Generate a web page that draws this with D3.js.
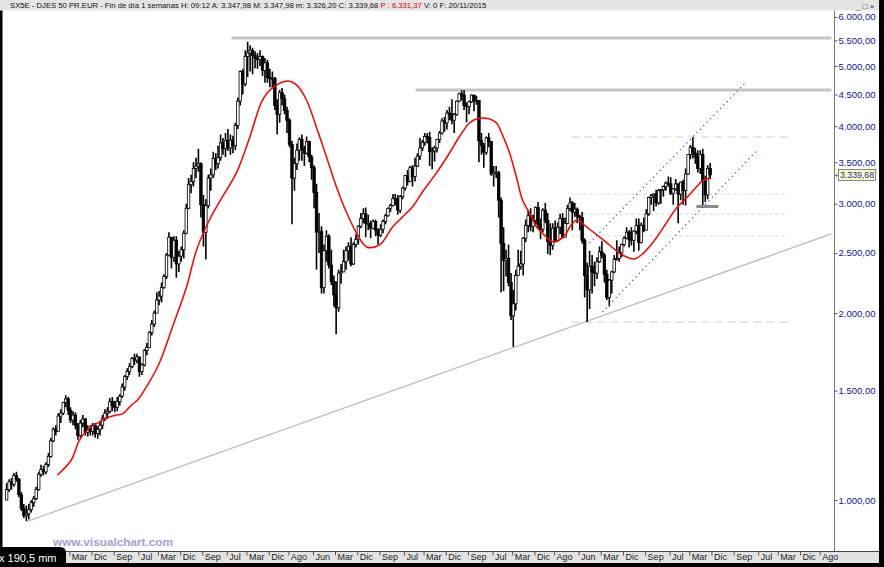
<!DOCTYPE html>
<html>
<head>
<meta charset="utf-8">
<script src="https://cdn.jsdelivr.net/npm/d3@7"></script>
<style>
body { margin: 0; background: #000; }
svg { display: block; }
text { font-family: Arial, "Liberation Sans", sans-serif; }
</style>
</head>
<body>
<svg id="chart" width="884" height="567"></svg>
<script>
/* SX5E weekly chart, drawn with monthly bars */

var firstOpen = 1000;
var lastClose = 3339.68;

// monthly highs, Jan 1992 .. Nov 2015
var high = [
	1065,1080,1085,1105,1110,1085,1030,985,980,985,1000,1015,
	1050,1110,1140,1135,1150,1190,1260,1310,1320,1380,1400,1440,
	1475,1465,1410,1390,1385,1330,1345,1370,1355,1320,1320,1330,
	1330,1315,1340,1370,1400,1410,1460,1465,1445,1465,1480,1540,
	1590,1630,1660,1700,1720,1720,1700,1660,1750,1790,1870,1950,
	2020,2160,2170,2240,2310,2500,2700,2650,2660,2660,2520,2560,
	2720,3000,3300,3340,3500,3560,3680,3500,3100,3050,3340,3420,
	3640,3620,3720,3880,3830,3900,3960,3880,3860,4050,4450,4920,
	4950,5300,5470,5400,5350,5280,5250,5300,5200,5150,5120,4950,
	4900,4800,4420,4580,4610,4500,4300,4120,3790,3560,3750,3840,
	3880,3720,3850,3790,3600,3460,3230,2900,2760,2580,2720,2680,
	2530,2300,2250,2350,2400,2530,2560,2600,2650,2600,2680,2770,
	2900,2950,2960,2880,2820,2830,2830,2740,2780,2830,2890,2960,
	3000,3110,3110,3100,3100,3200,3340,3400,3450,3460,3560,3620,
	3830,3800,3900,3900,3920,3700,3720,3820,3930,4120,4140,4250,
	4300,4420,4200,4400,4530,4570,4570,4370,4400,4500,4490,4480,
	4350,3900,3760,3850,3900,3780,3450,3450,3390,3070,2750,2530,
	2580,2320,2180,2350,2530,2520,2650,2830,2930,2950,2880,2970,
	3020,2840,2950,3010,2900,2790,2790,2820,2800,2890,2900,2850,
	2990,3070,3030,3010,2960,2880,2910,2640,2410,2520,2480,2420,
	2460,2560,2610,2500,2350,2270,2340,2480,2620,2560,2590,2660,
	2750,2720,2750,2720,2840,2840,2800,2850,2940,3080,3110,3120,
	3160,3170,3170,3210,3260,3320,3310,3180,3290,3230,3260,3280,
	3420,3610,3730,3840,3690,3660,3660,3680,3330,3460,3490
];

var low = [
	1010,1030,1040,1050,1070,1010,960,935,925,930,955,975,
	1000,1035,1090,1095,1100,1130,1170,1240,1270,1290,1330,1370,
	1410,1370,1330,1320,1300,1250,1260,1310,1270,1265,1270,1270,
	1260,1255,1270,1300,1340,1350,1380,1390,1385,1390,1420,1460,
	1500,1560,1590,1630,1650,1660,1580,1590,1640,1710,1760,1840,
	1900,2000,2060,2080,2190,2270,2470,2360,2420,2280,2330,2420,
	2450,2680,2940,3120,3200,3300,3380,2850,2560,2440,2950,3150,
	3300,3400,3420,3520,3600,3570,3650,3600,3620,3660,3960,4320,
	4500,4640,4800,4900,4850,4960,4950,5000,4820,4700,4700,4620,
	4600,4250,3880,4050,4320,4180,3900,3700,2780,3150,3400,3520,
	3520,3450,3600,3500,3280,2950,2350,2500,2150,2150,2420,2360,
	2220,2050,1850,2010,2230,2330,2350,2430,2380,2390,2550,2580,
	2740,2790,2650,2720,2640,2730,2660,2580,2650,2690,2780,2860,
	2910,2970,2980,2880,2900,3050,3150,3210,3250,3200,3260,3440,
	3530,3650,3720,3750,3450,3410,3510,3630,3760,3880,3920,3950,
	4090,4030,3900,4160,4370,4400,4250,4060,4180,4360,4230,4330,
	3500,3600,3430,3600,3700,3330,3200,3300,2850,2160,2170,2290,
	2210,1950,1765,2020,2300,2350,2300,2600,2700,2710,2700,2780,
	2740,2630,2700,2790,2490,2480,2530,2600,2610,2680,2640,2650,
	2780,2920,2720,2860,2790,2720,2590,2120,1935,2030,2150,2210,
	2270,2410,2450,2240,2100,2050,2150,2320,2430,2420,2460,2560,
	2630,2550,2570,2510,2680,2520,2590,2700,2720,2870,2990,2920,
	2970,2990,3000,3080,3150,3200,3100,2990,3150,2790,3040,2990,
	2980,3340,3540,3550,3480,3370,3350,2970,3020,3050,3290
];

var close = [
	1040,1070,1060,1095,1080,1020,970,945,950,965,990,1005,
	1040,1100,1120,1110,1140,1175,1245,1300,1290,1365,1380,1435,
	1455,1395,1345,1370,1320,1270,1330,1350,1285,1300,1290,1320,
	1280,1300,1320,1355,1380,1390,1440,1420,1410,1440,1470,1520,
	1580,1610,1640,1690,1680,1700,1610,1650,1740,1760,1860,1920,
	2000,2100,2130,2200,2290,2480,2650,2460,2620,2400,2470,2530,
	2690,2950,3220,3260,3420,3450,3480,2990,2700,2980,3300,3340,
	3550,3480,3560,3760,3680,3790,3690,3800,3720,4010,4390,4900,
	4680,5180,5250,5300,5200,5150,5120,5180,4920,5060,4790,4770,
	4780,4320,4180,4530,4430,4240,4090,3740,3300,3480,3660,3810,
	3670,3620,3780,3570,3430,3130,2700,2710,2200,2520,2660,2390,
	2250,2140,2040,2320,2330,2420,2520,2560,2400,2580,2630,2760,
	2840,2890,2790,2790,2740,2810,2720,2670,2730,2810,2870,2950,
	2980,3060,3060,2930,3080,3180,3330,3260,3430,3320,3450,3580,
	3690,3770,3850,3840,3640,3650,3690,3810,3900,4080,4050,4200,
	4180,4090,4180,4390,4510,4490,4320,4300,4380,4490,4400,4400,
	3790,3720,3630,3830,3780,3350,3370,3370,3040,2590,2430,2450,
	2240,1980,2070,2300,2380,2400,2640,2770,2870,2760,2820,2960,
	2780,2730,2930,2820,2610,2570,2740,2620,2750,2840,2650,2790,
	2950,3010,2910,2940,2860,2850,2620,2300,2180,2380,2330,2320,
	2420,2510,2480,2310,2120,2260,2330,2440,2450,2500,2580,2640,
	2700,2630,2620,2710,2770,2600,2770,2720,2890,3070,3090,3110,
	3010,3150,3160,3200,3240,3230,3120,3170,3230,3110,3250,3150,
	3350,3600,3700,3620,3570,3420,3600,3270,3100,3420,3339.68
];

// red average line
var maDates = [
	"1993-10-04","1994-03-25","1994-07-04","1994-11-07","1995-03-07","1995-06-04","1995-10-04","1995-12-19",
	"1996-04-07","1996-06-22","1996-10-10","1997-03-19","1997-08-28","1998-02-18","1998-06-22","1998-11-28",
	"1999-05-07","1999-10-28","2000-04-07","2000-09-16","2001-01-16","2001-07-19","2001-11-10","2002-03-13",
	"2002-07-13","2002-11-16","2003-03-19","2003-07-19","2003-11-22","2004-03-25","2004-09-01","2005-02-10",
	"2005-06-13","2005-10-13","2006-02-15","2006-08-07","2007-01-16","2007-05-16","2007-09-19","2007-12-16",
	"2008-05-25","2008-08-19","2008-11-01","2009-01-28","2009-04-22","2009-07-07","2009-10-01","2009-12-28",
	"2010-03-10","2010-06-04","2010-08-07","2010-10-07","2011-01-04","2011-02-10","2011-05-16","2011-09-07",
	"2012-02-15","2012-06-16","2012-11-25","2013-04-22","2013-07-16","2013-12-01","2014-05-22","2014-09-25",
	"2015-01-25","2015-05-28","2015-08-10","2015-11-20"
];
var maValues = [
	1097,1160,1249,1306,1335,1356,1371,1376,
	1422,1449,1521,1662,1900,2203,2528,2825,
	3077,3364,3829,4409,4610,4731,4662,4409,
	3989,3569,3193,2910,2692,2556,2575,2753,
	2857,2965,3134,3364,3622,3843,4049,4109,
	4109,4049,3873,3622,3314,3043,2899,2753,
	2692,2623,2604,2623,2692,2753,2825,2753,
	2653,2575,2481,2445,2481,2594,2794,2954,
	3065,3193,3265,3302
];

// drawn objects
var resistValues = [5550, 4576];
var resistFrom = ["1999-08-28", "2005-11-21"];
var resistTo = ["2019-12-24", "2019-12-24"];

var fibValues = [3843, 3108, 2886, 2663, 1935];
var fibFrom = "2011-03-04";
var fibTo = "2018-06-28";

var supportValue = 2970;
var supportDates = ["2015-05-28", "2016-02-25"];

var trendDates = ["1992-09-17", "2019-12-24"];
var trendValues = [923, 2684];

var channelUpDates = ["2011-10-13", "2017-01-22"];
var channelUpValues = [2594, 4696];
var channelLowDates = ["2012-03-22", "2017-06-22"];
var channelLowValues = [2008, 3663];

var yTicks = [1000, 1500, 2000, 2500, 3000, 3500, 4000, 4500, 5000, 5500, 6000];
var xTickMonths = ["1994-03","1994-12","1995-09","1996-07","1997-03","1997-12",
	"1998-09","1999-07","2000-03","2000-12","2001-08","2002-06","2003-03","2003-12","2004-09","2005-07",
	"2006-03","2006-12","2007-09","2008-07","2009-03","2009-12","2010-08","2011-06","2012-03","2012-12",
	"2013-09","2014-07","2015-03","2015-12","2016-09","2017-07","2018-03","2018-12","2019-08"];
var monthNames = ["Ene","Feb","Mar","Abr","May","Jun","Jul","Ago","Sep","Oct","Nov","Dic"];

var parseDay = d3.timeParse("%Y-%m-%d");
var parseMonth = d3.timeParse("%Y-%m");
var es = d3.formatLocale({decimal: ",", thousands: ".", grouping: [3], currency: ["", ""]});
var fmt = es.format(",.2f");

var svg = d3.select("#chart");

var x = d3.scaleTime()
	.domain([new Date(1992, 0, 1), new Date(2020, 0, 25)])
	.range([5.5, 834]);
var y = d3.scaleLog().domain([1000, 6000]).range([500, 16.9]);

var plotTop = 10.5, plotBottom = 551.5, axisX = 834;

// background and frame
svg.append("rect").attr("width", 884).attr("height", 567).attr("fill", "#fff");
svg.append("defs").append("clipPath").attr("id", "plot-clip")
	.append("rect").attr("x", 2.5).attr("y", plotTop).attr("width", axisX - 2.5).attr("height", plotBottom - plotTop);

var plot = svg.append("g").attr("clip-path", "url(#plot-clip)");

function segment(g, d0, v0, d1, v1){
	return g.append("line")
	.attr("x1", x(parseDay(d0))).attr("y1", y(v0))
	.attr("x2", x(parseDay(d1))).attr("y2", y(v1));
}

// long trend line
segment(plot, trendDates[0], trendValues[0], trendDates[1], trendValues[1])
.attr("stroke", "#c3c3c3").attr("stroke-width", 1.5);

// fibonacci levels
fibValues.forEach(function(v, i){
	var outer = (i == 0 || i == fibValues.length - 1);
	segment(plot, fibFrom, v, fibTo, v)
	.attr("stroke", outer ? "#cfcfcf" : "#d6d6d6")
	.attr("stroke-width", 1)
	.attr("stroke-dasharray", outer ? "8,5" : "3,3");
});

// resistance levels
resistValues.forEach(function(v, i){
	segment(plot, resistFrom[i], v, resistTo[i], v)
	.attr("stroke", "#c4c4c4").attr("stroke-width", 3);
});

// candles
var bars = close.map(function(c, i){
	var o = i ? close[i - 1] : firstOpen;
	return {
		date: new Date(1992, i, 15),
		o: o, c: c,
		h: Math.max(high[i], o, c),
		l: Math.min(low[i], o, c)
	};
});

var candle = plot.append("g").attr("class", "candles")
	.selectAll("g").data(bars).enter().append("g");

candle.append("line")
	.attr("x1", function(d){ return x(d.date); })
	.attr("x2", function(d){ return x(d.date); })
	.attr("y1", function(d){ return y(d.h); })
	.attr("y2", function(d){ return y(d.l); })
	.attr("stroke", "#000")
	.attr("stroke-width", 1.6);

candle.append("rect")
	.attr("x", function(d){ return x(d.date) - 1.25; })
	.attr("width", 2.5)
	.attr("y", function(d){ return y(Math.max(d.o, d.c)); })
	.attr("height", function(d){ return Math.max(1, Math.abs(y(d.o) - y(d.c))); })
	.attr("fill", function(d){ return d.c >= d.o ? "#fff" : "#000"; })
	.attr("stroke", "#000")
	.attr("stroke-width", 0.8);

// support under the last bars
segment(plot, supportDates[0], supportValue, supportDates[1], supportValue)
.attr("stroke", "#8a8a8a").attr("stroke-width", 3);

// red average
var maLine = d3.line()
	.x(function(d){ return x(parseDay(d[0])); })
	.y(function(d){ return y(d[1]); })
	.curve(d3.curveCatmullRom.alpha(0.5));

plot.append("path")
	.datum(maDates.map(function(d, i){ return [d, maValues[i]]; }))
	.attr("d", maLine)
	.attr("fill", "none")
	.attr("stroke", "#ff0000")
	.attr("stroke-width", 1.5);

// channel
[[channelUpDates, channelUpValues], [channelLowDates, channelLowValues]].forEach(function(ch){
	segment(plot, ch[0][0], ch[1][0], ch[0][1], ch[1][1])
	.attr("stroke", "#3c3cff")
	.attr("stroke-width", 1.1)
	.attr("stroke-dasharray", "1.3,3.5");
});

// right axis
svg.append("line")
	.attr("x1", axisX + 0.5).attr("x2", axisX + 0.5)
	.attr("y1", plotTop).attr("y2", plotBottom)
	.attr("stroke", "#7a7a7a");

var yAxis = svg.append("g")
	.attr("transform", "translate(" + (axisX + 0.5) + ",0)")
	.call(d3.axisRight(y).tickValues(yTicks).tickSize(3).tickSizeOuter(0).tickPadding(1).tickFormat(fmt));
yAxis.select(".domain").remove();
yAxis.selectAll("line").attr("stroke", "#555");
yAxis.selectAll("text")
	.attr("fill", "#1010a0").attr("font-size", 9.5)
	.attr("textLength", 37).attr("lengthAdjust", "spacingAndGlyphs")
	.attr("font-family", "Arial, 'Liberation Sans', sans-serif");

// last price tag
var lastY = y(lastClose);
svg.append("text").attr("x", 834).attr("y", lastY + 3).attr("font-size", 8).attr("fill", "#333").text("+");
svg.append("rect")
	.attr("x", 838.5).attr("y", lastY - 5.5).attr("width", 37).attr("height", 11)
	.attr("fill", "#ffffc4").attr("stroke", "#666").attr("stroke-width", 0.8);
svg.append("text")
	.attr("x", 840).attr("y", lastY + 3.5)
	.attr("font-size", 9.5).attr("fill", "#2020b0")
	.attr("textLength", 34).attr("lengthAdjust", "spacingAndGlyphs")
	.text(fmt(lastClose));

// bottom axis band
svg.append("rect").attr("x", 0).attr("y", plotBottom).attr("width", 884).attr("height", 12).attr("fill", "#e2e2e2");
svg.append("line").attr("x1", 0).attr("x2", 879).attr("y1", plotBottom).attr("y2", plotBottom).attr("stroke", "#444");

var xAxis = svg.append("g")
	.attr("transform", "translate(0," + plotBottom + ")")
	.call(d3.axisBottom(x)
		.tickValues(xTickMonths.map(function(m){ return parseMonth(m); }))
		.tickSize(4).tickSizeOuter(0)
		.tickFormat(function(d){ return monthNames[d.getMonth()]; }));
xAxis.select(".domain").remove();
xAxis.selectAll("line").attr("stroke", "#555");
xAxis.selectAll("text")
	.attr("text-anchor", "start")
	.attr("x", 2).attr("y", 2).attr("dy", "0.71em")
	.attr("fill", "#222").attr("font-size", 9)
	.attr("font-family", "Arial, 'Liberation Sans', sans-serif");

// header bar
svg.append("rect").attr("width", 884).attr("height", plotTop).attr("fill", "#e4e4e4");
var header = svg.append("text").attr("x", 10).attr("y", 8).attr("font-size", 7.7).attr("fill", "#111");
header.append("tspan").text("SX5E - DJES 50 PR.EUR - Fin de día 1 semanas  H: 09:12  A: 3.347,98  M: 3.347,98  m: 3.326,20  C: 3.339,68  ");
header.append("tspan").attr("fill", "#e00000").text("P : 6.331,37");
header.append("tspan").text("  V: 0  F: 20/11/2015");
svg.append("text").attr("x", 856).attr("y", 9).attr("font-size", 8).attr("fill", "#333").text("_ \u25a1 \u00d7");

// black frame
svg.append("rect").attr("x", 0).attr("y", plotTop).attr("width", 2.5).attr("height", 567).attr("fill", "#000");
svg.append("rect").attr("x", 879).attr("y", 0).attr("width", 5).attr("height", 567).attr("fill", "#000");
svg.append("rect").attr("x", 0).attr("y", 563).attr("width", 884).attr("height", 4).attr("fill", "#000");

// watermark
svg.append("text")
	.attr("x", 53).attr("y", 546)
	.attr("font-family", "Verdana, 'DejaVu Sans', sans-serif")
	.attr("font-weight", "bold").attr("font-size", 10)
	.attr("fill", "#a0a0d6")
	.attr("textLength", 120).attr("lengthAdjust", "spacingAndGlyphs")
	.text("www.visualchart.com");

// ruler tooltip
svg.append("path").attr("d", "M0,547 H60 Q66,547 66,553 V567 H0 Z").attr("fill", "#000");
svg.append("text").attr("x", -1).attr("y", 562).attr("font-size", 11).attr("fill", "#fff").text("x 190,5 mm");
</script>
</body>
</html>
